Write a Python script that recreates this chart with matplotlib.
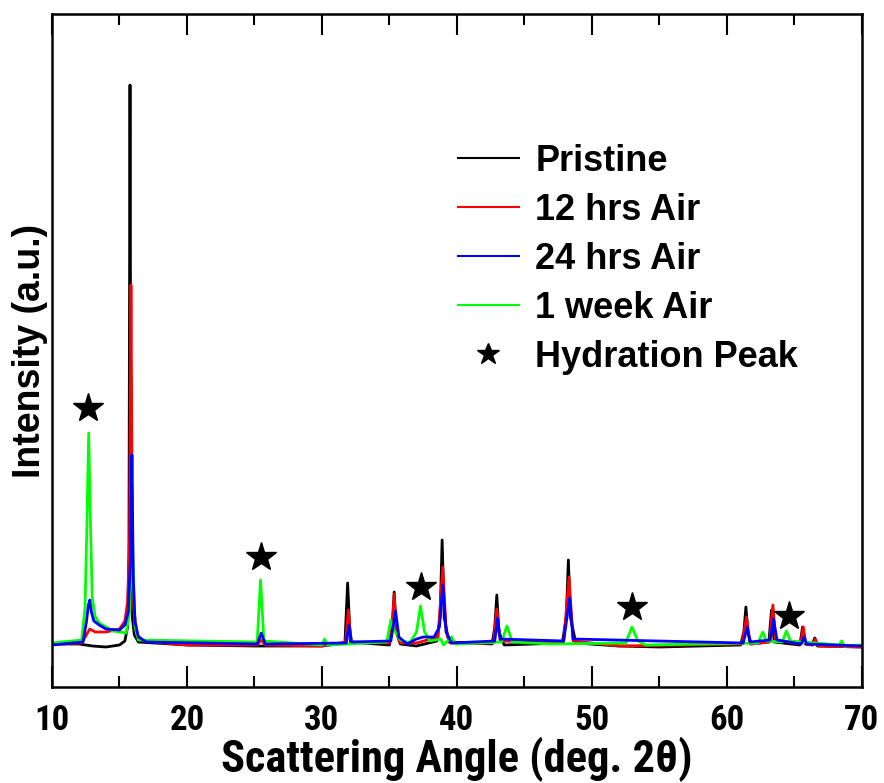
import matplotlib
matplotlib.use("Agg")
import matplotlib.pyplot as plt
from matplotlib import font_manager


def pick_narrow(prefs):
    # first condensed family that has a bold face
    for name in prefs:
        for f in font_manager.fontManager.ttflist:
            if f.name == name and int(f.weight) >= 600:
                return name
    return "Liberation Sans"


narrow = pick_narrow(["Liberation Sans Narrow", "Arial Narrow", "Roboto Condensed",
                      "Archivo Narrow", "PT Sans Narrow", "Fira Sans Condensed",
                      "Pragati Narrow", "Barlow Semi Condensed"])
plt.rcParams["font.family"] = ["Liberation Sans", "DejaVu Sans"]
plt.rcParams["font.weight"] = "bold"

# diffraction patterns, vertices (2theta, intensity)
pristine_x = [10.0, 12.0, 13.0, 14.0, 15.0, 15.4, 15.6, 15.7, 15.78, 15.86, 15.95, 16.1, 16.4,
              20.0, 25.0, 30.0,
              31.7, 31.9, 32.1, 35.0, 35.2, 35.35, 35.5, 35.8, 37.0, 38.5, 38.75, 38.9, 39.05, 39.4,
              42.6, 42.8, 42.95, 43.1, 43.5, 47.8, 48.1, 48.25, 48.4, 48.8, 52.0, 55.0,
              61.0, 61.25, 61.4, 61.55, 61.8, 63.1, 63.3, 63.5, 65.4, 65.6, 65.8, 66.3, 66.5, 66.7, 70.0]
pristine_y = [43, 43, 41, 40, 42, 46, 60, 130, 602, 130, 70, 52, 45,
              42, 41, 41,
              44, 104, 45, 42, 60, 95, 55, 43, 41, 46, 70, 147, 70, 45,
              43, 60, 92, 55, 42, 44, 70, 127, 70, 44, 41, 40,
              42, 55, 80, 55, 43, 45, 77, 45, 42, 60, 43, 42, 49, 41, 40]

hrs12_x = [10.0, 12.2, 12.8, 13.2, 14.0, 15.0, 15.4, 15.6, 15.75, 15.85, 15.95, 16.05, 16.3,
           16.8, 20.0,
           25.2, 25.5, 25.8, 30.0, 31.75, 31.95, 32.15, 35.0, 35.2, 35.35, 35.5, 35.8, 37.0,
           38.6, 38.95, 39.2, 39.5, 42.7, 42.95, 43.2, 47.9, 48.3, 48.6, 52.0,
           61.1, 61.45, 61.7, 63.15, 63.4, 63.6, 65.45, 65.65, 65.85, 66.35, 66.55, 66.75, 70.0]
hrs12_y = [43, 44, 58, 55, 55, 58, 66, 85, 150, 402, 150, 80, 52,
           46, 42,
           42, 47, 42, 41, 45, 77, 45, 44, 60, 93, 55, 44, 44,
           50, 120, 55, 44, 44, 78, 46, 45, 110, 46, 41,
           43, 70, 43, 45, 82, 47, 43, 60, 43, 42, 48, 41, 40]

hrs24_x = [10.0, 12.3, 12.55, 12.7, 12.8, 12.92, 13.1, 13.5, 14.0, 15.0, 15.4, 15.65, 15.82,
           15.92, 16.02, 16.15, 16.4, 17.0,
           25.2, 25.5, 25.8, 31.8, 32.0, 32.2, 35.1, 35.45, 35.7, 36.3, 37.0, 37.5, 38.3,
           38.7, 38.95, 39.2, 39.6, 42.8, 43.0, 43.2, 47.9, 48.35, 48.6,
           61.2, 61.5, 61.7, 63.2, 63.45, 63.7, 65.5, 65.7, 65.9, 70.0]
hrs24_y = [42, 45, 65, 82, 87, 75, 66, 62, 58, 57, 62, 75, 130,
           232, 110, 65, 50, 45,
           43, 54, 43, 44, 62, 45, 46, 76, 50, 43, 48, 50, 50,
           60, 102, 55, 44, 46, 69, 48, 46, 89, 48,
           44, 60, 45, 47, 68, 47, 43, 50, 43, 41]

week1_x = [10.0, 12.2, 12.45, 12.6, 12.72, 12.84, 12.98, 13.2, 13.5, 14.5, 15.5, 15.75, 15.88,
           15.95, 16.03, 16.15, 16.4,
           25.2, 25.45, 25.7, 30.0, 30.2, 30.4, 34.8, 35.1, 35.3, 35.8, 36.5, 37.0, 37.3, 37.6,
           38.0, 38.8, 39.0, 39.6, 39.9, 43.3, 43.7, 44.1, 47.0, 52.5, 52.96, 53.4, 54.0,
           62.3, 62.65, 62.9, 64.1, 64.4, 64.7, 68.3, 68.5, 68.7, 70.0]
week1_y = [44, 47, 80, 170, 254, 170, 90, 70, 64, 56, 54, 75, 130,
           157, 110, 60, 47,
           45, 107, 46, 42, 48, 42, 45, 67, 58, 47, 44, 55, 81, 55,
           46, 48, 42, 50, 43, 45, 61, 45, 43, 44, 60, 46, 42,
           44, 55, 46, 45, 56, 46, 42, 46, 41, 42]

# hydration peak markers
star_x = [12.7, 25.5, 37.3, 53.0, 64.6]
star_y = [279, 130, 100, 80, 71]

series = [
    ("Pristine", pristine_x, pristine_y, "#000000"),
    ("12 hrs Air", hrs12_x, hrs12_y, "#ff0000"),
    ("1 week Air", week1_x, week1_y, "#00ff00"),
    ("24 hrs Air", hrs24_x, hrs24_y, "#0000ff"),
]

fig = plt.figure(figsize=(8.84, 7.83), dpi=100)
ax = fig.add_axes([0.0588, 0.1226, 0.9163, 0.8595])

lines = {}
for label, xs, ys, c in series:
    lines[label], = ax.plot(xs, ys, color=c, lw=2.0, label=label)
stars, = ax.plot(star_x, star_y, ls="none", marker="*", ms=22, color="black",
                 label="Hydration Peak")

ax.set_xlim(10, 70)
ax.set_ylim(0, 673)
ax.set_yticks([])
ax.set_xticks(range(10, 71, 10))
ax.set_xticks(range(15, 70, 10), minor=True)
ax.tick_params(axis="x", which="both", direction="in", top=True, width=1.5)
ax.tick_params(axis="x", which="major", length=15, pad=12)
ax.tick_params(axis="x", which="minor", length=8)
for s in ax.spines.values():
    s.set_linewidth(1.8)

for t in ax.get_xticklabels():
    t.set_fontfamily([narrow, "DejaVu Sans"])
    t.set_fontsize(25)
    t.set_fontweight("bold")

ax.set_xlabel("Scattering Angle (deg. 2θ)", fontsize=32, fontweight="bold",
              family=[narrow, "DejaVu Sans"], labelpad=0)
ax.set_ylabel("Intensity (a.u.)", fontsize=27, fontweight="bold", labelpad=3)

order = ["Pristine", "12 hrs Air", "24 hrs Air", "1 week Air"]
handles = [lines[k] for k in order] + [stars]
leg = ax.legend(handles, order + ["Hydration Peak"], loc="upper left",
                bbox_to_anchor=(0.501, 0.807), frameon=False, fontsize=26,
                handlelength=1.7, handletextpad=0.45, labelspacing=0.385,
                borderpad=0, borderaxespad=0, markerscale=0.75)
for h in leg.legend_handles[:4]:
    h.set_linewidth(1.5)
for t in leg.get_texts():
    t.set_fontweight("bold")

fig.savefig("out.png", dpi=100)
